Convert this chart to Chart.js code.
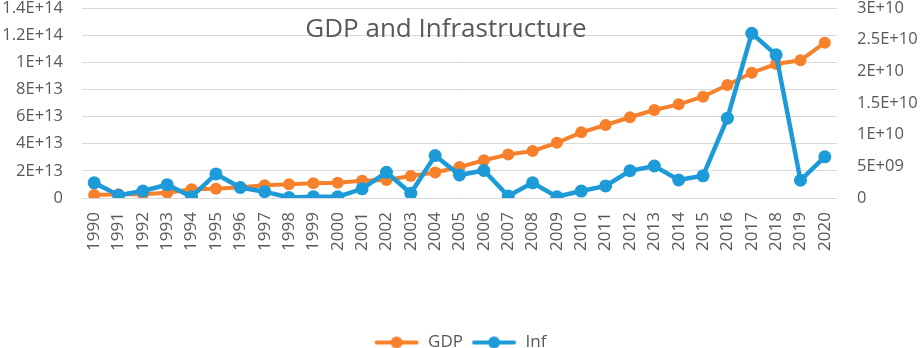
<!DOCTYPE html>
<html>
<head>
<meta charset="utf-8">
<title>GDP and Infrastructure</title>
<script src="https://cdn.jsdelivr.net/npm/chart.js@4"></script>
<style>
  html, body { margin: 0; padding: 0; background: #fff; }
  #wrap { position: relative; width: 920px; height: 348px; }
  #title {
    position: absolute; left: 0; top: 14px; width: 892px; text-align: center;
    font-family: "Open Sans", sans-serif; font-size: 26px; line-height: 26px; color: #595959;
    pointer-events: none; z-index: 2;
  }
</style>
</head>
<body>
<div id="wrap">
  <div id="title">GDP and Infrastructure</div>
  <canvas id="chart"></canvas>
</div>
<script>
const years = ["1990", "1991", "1992", "1993", "1994", "1995", "1996", "1997", "1998", "1999",
  "2000", "2001", "2002", "2003", "2004", "2005", "2006", "2007", "2008", "2009",
  "2010", "2011", "2012", "2013", "2014", "2015", "2016", "2017", "2018", "2019", "2020"];

const gdp = [2.2e12, 2.7e12, 2.8e12, 3.9e12, 6.5e12, 6.8e12, 7.9e12, 9.4e12, 10.1e12, 10.8e12,
  11.3e12, 12.7e12, 13.2e12, 16.2e12, 18.8e12, 22.8e12, 27.8e12, 32.0e12, 34.6e12, 40.7e12,
  48.4e12, 53.8e12, 59.5e12, 64.8e12, 69.0e12, 74.6e12, 83.3e12, 92.3e12, 98.7e12, 101.5e12, 114.4e12];

const inf = [2.4e9, 0.43e9, 1.1e9, 2.1e9, 0.2e9, 3.8e9, 1.66e9, 1.0e9, 0.08e9, 0.2e9,
  0.19e9, 1.45e9, 4.06e9, 0.74e9, 6.7e9, 3.63e9, 4.34e9, 0.32e9, 2.4e9, 0.2e9,
  1.1e9, 1.9e9, 4.3e9, 5.05e9, 2.84e9, 3.5e9, 12.6e9, 26.0e9, 22.6e9, 2.8e9, 6.5e9];

const leftTicks = ["0", "2E+13", "4E+13", "6E+13", "8E+13", "1E+14", "1.2E+14", "1.4E+14"];
const rightTicks = ["0", "5E+09", "1E+10", "1.5E+10", "2E+10", "2.5E+10", "3E+10"];

const orange = "#F7802A";
const blue = "#1D9AD8";
const textGray = "#595959";
const gridGray = "#D9D9D9";

// layout numbers (px) of the plot box
const padBottom = -13;
const plotBottom = 198;

function legendIcon(color) {
  const c = document.createElement("canvas");
  c.width = 46;
  c.height = 14;
  const g = c.getContext("2d");
  g.strokeStyle = color;
  g.lineWidth = 4;
  g.lineCap = "round";
  g.beginPath();
  g.moveTo(3, 7);
  g.lineTo(43, 7);
  g.stroke();
  g.fillStyle = color;
  g.beginPath();
  g.arc(23, 7, 6, 0, Math.PI * 2);
  g.fill();
  return c;
}

const icons = [legendIcon(orange), legendIcon(blue)];
const font = { family: "'Open Sans', sans-serif", size: 17 };
const yFont = { family: "'Open Sans', sans-serif", size: 16.5 };

function noPad(scale) {
  scale.paddingTop = 0;
  scale.paddingBottom = 0;
}

new Chart(document.getElementById("chart"), {
  type: "line",
  data: {
    labels: years,
    datasets: [
      {
        label: "GDP",
        data: gdp,
        yAxisID: "y",
        borderColor: orange,
        backgroundColor: orange,
        borderWidth: 4,
        pointRadius: 6,
        pointBorderWidth: 0,
        order: 1,
      },
      {
        label: "Inf",
        data: inf,
        yAxisID: "y1",
        borderColor: blue,
        backgroundColor: blue,
        borderWidth: 4.5,
        pointRadius: 6.5,
        pointBorderWidth: 0,
        order: 0,
      },
    ],
  },
  options: {
    responsive: true,
    maintainAspectRatio: false,
    animation: false,
    layout: { padding: { top: 8, bottom: padBottom } },
    plugins: {
      title: { display: false },
      tooltip: { enabled: false },
      legend: {
        position: "bottom",
        labels: {
          usePointStyle: true,
          pointStyleWidth: 46,
          padding: 8,
          color: textGray,
          font: { family: "'Open Sans', sans-serif", size: 17 },
          generateLabels: (chart) =>
            chart.data.datasets.map((ds, i) => ({
              text: ds.label,
              fillStyle: ds.borderColor,
              strokeStyle: ds.borderColor,
              fontColor: textGray,
              lineWidth: 0,
              pointStyle: icons[i],
              datasetIndex: i,
              hidden: false,
            })),
        },
      },
    },
    scales: {
      x: {
        offset: true,
        grid: { display: false, drawTicks: false },
        border: { display: false },
        ticks: {
          color: textGray,
          font,
          minRotation: 90,
          maxRotation: 90,
          padding: 14,
          autoSkip: false,
        },
        afterFit: (scale) => {
          scale.height = scale.chart.height - padBottom - plotBottom - scale.chart.legend.height;
        },
      },
      y: {
        position: "left",
        min: 0,
        max: 1.4e14,
        grid: { color: gridGray, lineWidth: 1, drawTicks: false },
        border: { display: false },
        ticks: {
          stepSize: 2e13,
          color: textGray,
          font: yFont,
          padding: 19,
          callback: (v, i) => leftTicks[i],
        },
        afterFit: (scale) => {
          scale.width = 82;
          noPad(scale);
        },
      },
      y1: {
        position: "right",
        min: 0,
        max: 3e10,
        grid: { display: false, drawTicks: false },
        border: { display: false },
        ticks: {
          stepSize: 5e9,
          color: textGray,
          font: yFont,
          padding: 20,
          callback: (v, i) => rightTicks[i],
        },
        afterFit: (scale) => {
          scale.width = 83;
          noPad(scale);
        },
      },
    },
  },
});
</script>
</body>
</html>
